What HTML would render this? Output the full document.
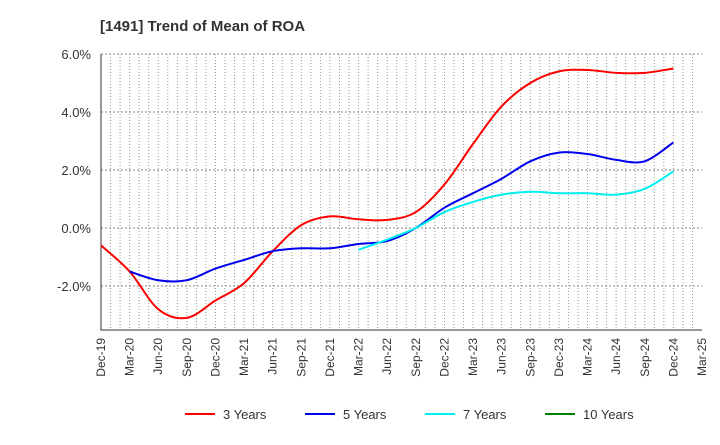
<!DOCTYPE html>
<html><head><meta charset="utf-8"><style>
body{margin:0;background:#fff;font-family:"Liberation Sans",sans-serif}
</style></head><body>
<svg id="c" width="720" height="440" xmlns="http://www.w3.org/2000/svg" font-family="Liberation Sans, sans-serif"></svg>
<script>
const xLabels=["Dec-19","Mar-20","Jun-20","Sep-20","Dec-20","Mar-21","Jun-21","Sep-21","Dec-21","Mar-22","Jun-22","Sep-22","Dec-22","Mar-23","Jun-23","Sep-23","Dec-23","Mar-24","Jun-24","Sep-24","Dec-24","Mar-25"];
const yTicks=[6,4,2,0,-2];
const yearsNames=["3 Years","5 Years","7 Years","10 Years"];
const colors=["#ff0000","#0000ee","#00eeee","#008000"];
// quarterly values starting Dec-19 (null = no data)
const s3=[-0.6,-1.5,-2.8,-3.1,-2.5,-1.9,-0.8,0.1,0.4,0.3,0.28,0.55,1.5,2.9,4.2,5.0,5.4,5.45,5.35,5.35,5.5];
const s5=[null,-1.5,-1.8,-1.8,-1.4,-1.1,-0.8,-0.7,-0.7,-0.55,-0.45,0.0,0.7,1.2,1.7,2.3,2.6,2.55,2.35,2.3,2.95];
const s7=[null,null,null,null,null,null,null,null,null,-0.75,-0.4,0.0,0.55,0.9,1.15,1.25,1.2,1.2,1.15,1.35,1.95];
const s10=[];
const L=101,R=702,T=54,B=330;
const xq=i=>L+(R-L)*i/21;
const y=v=>T+(6-v)*29;
const svg=document.getElementById('c');
const NS="http://www.w3.org/2000/svg";
function mk(t,a,p){const e=document.createElementNS(NS,t);for(const k in a)e.setAttribute(k,a[k]);(p||svg).appendChild(e);return e;}
// grid
for(let m=1;m<63;m++){const x=L+(R-L)*m/63;
const g=mk('line',{x1:x,x2:x,y1:T,y2:B,stroke:'#999','stroke-dasharray':'1,2','stroke-width':1});

}
yTicks.forEach(v=>{
const g=mk('line',{x1:L,x2:R,y1:y(v),y2:y(v),stroke:'#888','stroke-dasharray':'2,2'});


const t=mk('text',{x:L-10,y:y(v)+5,'text-anchor':'end','font-size':13,fill:'#333'});
t.textContent=v.toFixed(1)+'%';

});
const ax=mk('polyline',{points:`${L},${T} ${L},${B} ${R},${B}`,fill:'none',stroke:'#333','stroke-width':1});


xLabels.forEach((s,i)=>{const x=xq(i);
const t=mk('text',{x:0,y:0,'text-anchor':'end','font-size':12,fill:'#333',transform:`translate(${x+4},${B+8}) rotate(-90)`});
t.textContent=s;

});
function path(arr){const p=[];arr.forEach((v,i)=>{if(v!=null)p.push([xq(i),y(v)]);});
if(p.length<2)return '';
let d=`M${p[0][0]},${p[0][1]}`;
for(let i=0;i<p.length-1;i++){const p0=p[i-1]||p[i],p1=p[i],p2=p[i+1],p3=p[i+2]||p2;
d+=` C${p1[0]+(p2[0]-p0[0])/6},${p1[1]+(p2[1]-p0[1])/6} ${p2[0]-(p3[0]-p1[0])/6},${p2[1]-(p3[1]-p1[1])/6} ${p2[0]},${p2[1]}`;}
return d;}
[s3,s5,s7,s10].forEach((s,k)=>{const d=path(s);if(!d)return;
const e=mk('path',{d,fill:'none',stroke:colors[k],'stroke-width':2});

});
const title=mk('text',{x:100,y:31,'font-size':15,'font-weight':'bold',fill:'#333'});
title.textContent='[1491]  Trend of Mean of ROA';


yearsNames.forEach((n,k)=>{const x0=185+k*120;
const g=mk('g',{});


mk('line',{x1:x0,x2:x0+30,y1:414,y2:414,stroke:colors[k],'stroke-width':2},g);
const t=mk('text',{x:x0+38,y:419,'font-size':13,fill:'#333'},g);t.textContent=n;});
</script>
</body></html>
